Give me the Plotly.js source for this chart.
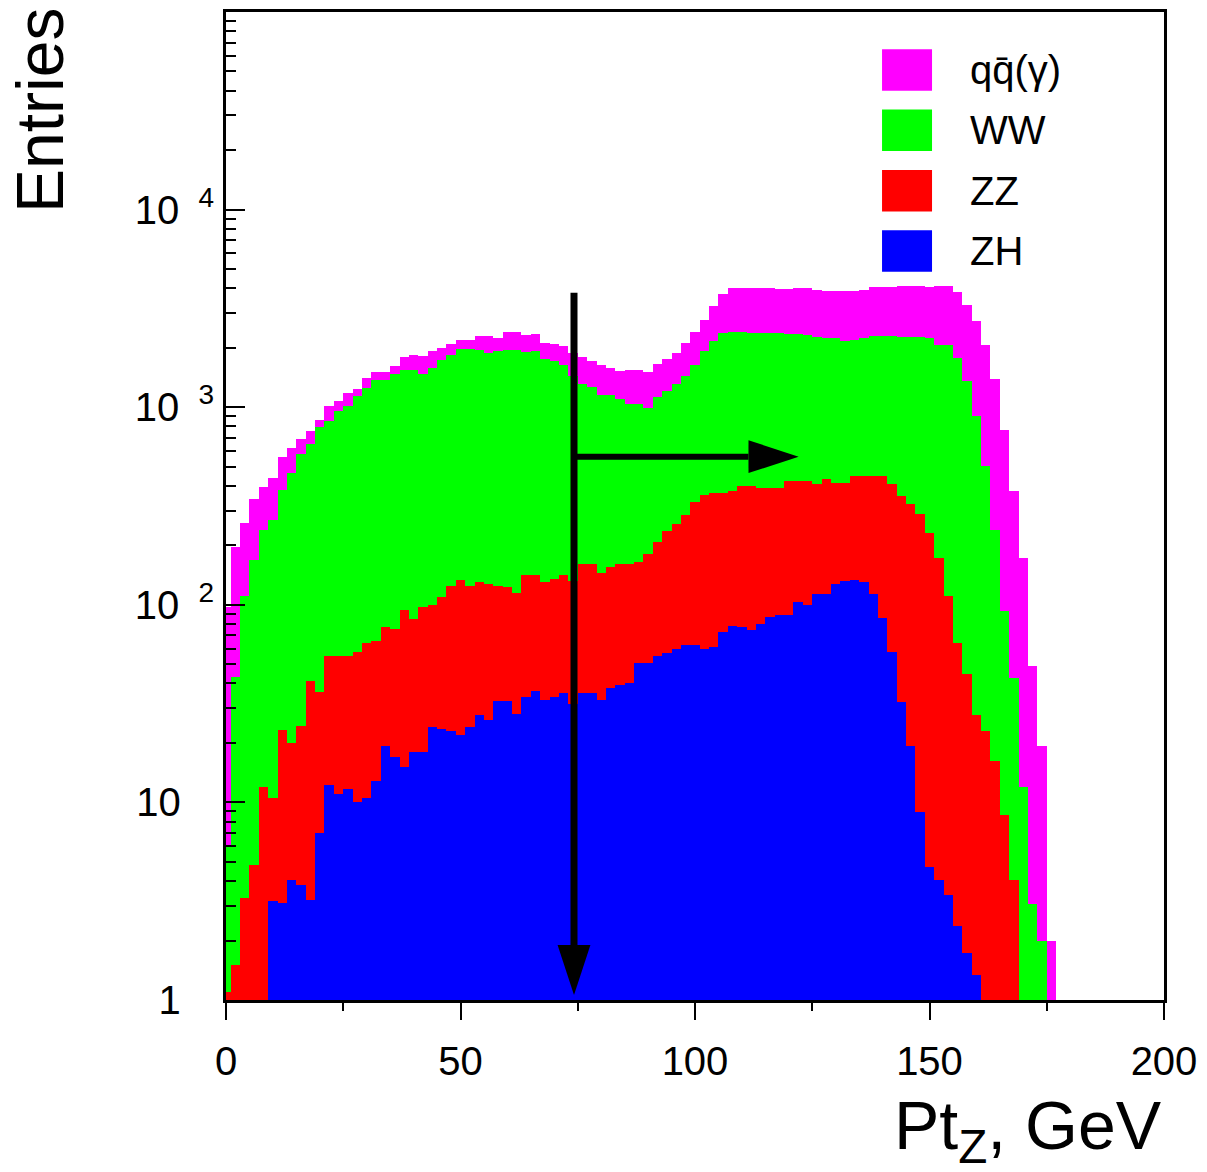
<!DOCTYPE html>
<html><head><meta charset="utf-8">
<script src="https://cdn.plot.ly/plotly-3.0.1.min.js"></script>
<style>html,body{margin:0;padding:0;background:#fff}#chart{width:1207px;height:1172px}</style>
</head><body><div id="chart"></div>
<script>
// Histogram binning (GeV)
const binStart = 0;
const binWidth = 2;

// Stacked levels (THStack: each level includes the ones below)
const zhStack = [0,0,0,0,0,3.17,3.1,4.07,3.8,3.2,
  7.0,12.3,11,11.7,10,10.5,12.9,19.2,17,15.1,
  18,18,24,23.5,22.9,22,24,27.7,26,32.7,
  32.7,28,34,36.5,33.1,34,35.7,31.6,35.7,35.7,
  33,38,39.4,40,50.5,50.5,55,56.8,59.7,62.8,
  62.8,59.7,61,72.5,78.3,77,74.5,80,86.3,88.7,
  88.7,103,100,113,113,128,132,134,131,113,
  86,58,32.4,19.2,8.9,4.7,4.07,3.39,2.37,1.72,
  1.34];

const zzStack = [1.1,1.5,3.3,4.8,11.9,10.5,23.3,20,24.5,41.3,
  36,55.3,55.3,55.3,58,63.8,65.8,77.6,75,94.4,
  85,97.7,100,110,125,134,125,131,128,125,
  123,115,141,141,130,135,141,132,161,161,
  145,155,161,160,165,180,207,237,255,285,
  330,359,369,369,375,399,399,388,388,388,
  423,423,423,410,431,415,415,449,449,449,
  449,407,355,325,289,232,172,111,64,44.7,
  27.7,22.9,16.2,8.6,4.07];

const wwStack = [6.1,43,111,169,239,269,380,466,579,650,
  793,849,955,1012,1136,1247,1368,1368,1473,1537,
  1537,1473,1581,1741,1845,1968,1968,1955,1880,1918,
  1955,1955,1902,1918,1754,1708,1643,1445,1310,1262,
  1159,1159,1094,1040,1040,991,1124,1214,1306,1435,
  1643,1932,2172,2372,2400,2390,2372,2380,2365,2372,
  2360,2350,2327,2259,2239,2239,2172,2200,2239,2284,
  2284,2284,2259,2259,2259,2239,2074,2074,1775,1364,
  902,504,238,93,42.4,12.0,3.05,2.0];

const qqStack = [98,195,260,343,394,438,559,621,689,756,
  860,1012,1072,1177,1233,1400,1502,1502,1610,1789,
  1832,1811,1918,1986,2080,2180,2180,2284,2284,2230,
  2392,2392,2312,2340,2113,2080,2033,1880,1790,1708,
  1630,1580,1521,1538,1538,1508,1655,1746,1880,2113,
  2400,2774,3236,3735,4008,4008,4008,4000,4000,3980,
  3950,4030,3990,3930,3884,3884,3853,3853,3930,4036,
  4036,4036,4120,4120,4120,4036,4120,4120,3811,3303,
  2717,2074,1396,771,377,172,49,19.2,2.0];

const seriesNames = ['qq\u0304(\u03b3)', 'WW', 'ZZ', 'ZH'];
const seriesColors = ['#ff00ff', '#00ff00', '#ff0000', '#0000ff'];
const seriesLevels = [qqStack, wwStack, zzStack, zhStack];

const xTickVals = [0, 50, 100, 150, 200];
const yTickVals = [1, 10, 100, 1000, 10000];
const yTickText = ['1\u00a0\u00a0\u00a0', '10\u00a0\u00a0\u00a0',
  '10\u00a0\u2009<sup>2</sup>', '10\u00a0\u2009<sup>3</sup>', '10\u00a0\u2009<sup>4</sup>'];

// Cut arrows (GeV, Entries)
const cutX = 74.2;
const downShaft = {x: [cutX, cutX], y: [3800, 1.9]};
const downHead = {x: [cutX - 3.5, cutX + 3.5, cutX, cutX - 3.5], y: [1.9, 1.9, 1.06, 1.9]};
const rightShaft = {x: [cutX, 111.4], y: [561, 561]};
const rightHead = {x: [111.4, 122.1, 111.4, 111.4], y: [681, 561, 464, 681]};

const FONT = 'Liberation Sans, Arial, Helvetica, sans-serif';

const traces = seriesLevels.map((lvl, i) => ({
  type: 'bar', x0: binStart, dx: binWidth, y: lvl, width: binWidth,
  marker: {color: seriesColors[i], line: {width: 0}},
  name: seriesNames[i], showlegend: false, hoverinfo: 'skip'
}));
[downShaft, rightShaft].forEach((s, i) => traces.push({
  type: 'scatter', mode: 'lines', x: s.x, y: s.y,
  line: {color: '#000', width: i === 0 ? 7 : 6}, showlegend: false, hoverinfo: 'skip', cliponaxis: false
}));
[downHead, rightHead].forEach(h => traces.push({
  type: 'scatter', mode: 'lines', x: h.x, y: h.y, fill: 'toself', fillcolor: '#000',
  line: {color: '#000', width: 0}, showlegend: false, hoverinfo: 'skip'
}));

const minorY = [];
for (let d = 0; d < 5; d++) for (let m = 2; m <= 9; m++) minorY.push(m * Math.pow(10, d));

// Legend drawn as boxes + labels (paper coords)
const legTop = 0.9413, legStep = 0.0611, boxHalf = 0.021;
const shapes = [], annotations = [];
seriesNames.forEach((n, i) => {
  const yc = legTop - i * legStep;
  shapes.push({type: 'rect', xref: 'paper', yref: 'paper', x0: 0.6994, x1: 0.7527,
    y0: yc - boxHalf, y1: yc + boxHalf, fillcolor: seriesColors[i], line: {width: 0}});
  annotations.push({xref: 'paper', yref: 'paper', x: 0.791, y: yc, xanchor: 'left', yanchor: 'middle',
    text: n, showarrow: false, font: {family: FONT, size: 40, color: '#000'}});
});
annotations.push({xref: 'paper', yref: 'paper', x: -0.1983, y: 0.9008, textangle: -90,
  xanchor: 'center', yanchor: 'middle', text: 'Entries', showarrow: false,
  font: {family: FONT, size: 66, color: '#000'}});
annotations.push({xref: 'paper', yref: 'paper', x: 1.0, y: -0.086, xanchor: 'right', yanchor: 'top',
  text: 'Pt<sub>Z</sub>, GeV', showarrow: false, font: {family: FONT, size: 68, color: '#000'}});

const layout = {
  width: 1207, height: 1172,
  margin: {l: 226, r: 43, t: 12, b: 172},
  paper_bgcolor: '#fff', plot_bgcolor: '#fff',
  barmode: 'overlay', bargap: 0,
  showlegend: false,
  font: {family: FONT, color: '#000'},
  xaxis: {
    range: [0, 200], tickmode: 'array', tickvals: xTickVals,
    ticks: 'outside', ticklen: 17, tickwidth: 2, tickcolor: '#000',
    minor: {tickmode: 'linear', tick0: 0, dtick: 25, ticks: 'outside', ticklen: 8, tickwidth: 2, tickcolor: '#000', showgrid: false},
    showline: true, linewidth: 3, linecolor: '#000', mirror: true,
    showgrid: false, zeroline: false, ticklabelstandoff: 7,
    tickfont: {family: FONT, size: 40, color: '#000'}
  },
  yaxis: {
    type: 'log', range: [0, 5], tickmode: 'array', tickvals: yTickVals, ticktext: yTickText,
    ticks: 'inside', ticklen: 19, tickwidth: 2, tickcolor: '#000',
    minor: {tickmode: 'array', tickvals: minorY, ticks: 'inside', ticklen: 10, tickwidth: 2, tickcolor: '#000', showgrid: false},
    showline: true, linewidth: 3, linecolor: '#000', mirror: true,
    showgrid: false, zeroline: false, ticklabelstandoff: 1,
    tickfont: {family: FONT, size: 40, color: '#000'}
  },
  shapes: shapes,
  annotations: annotations
};

Plotly.newPlot('chart', traces, layout, {staticPlot: true, displayModeBar: false});
</script>
</body></html>
